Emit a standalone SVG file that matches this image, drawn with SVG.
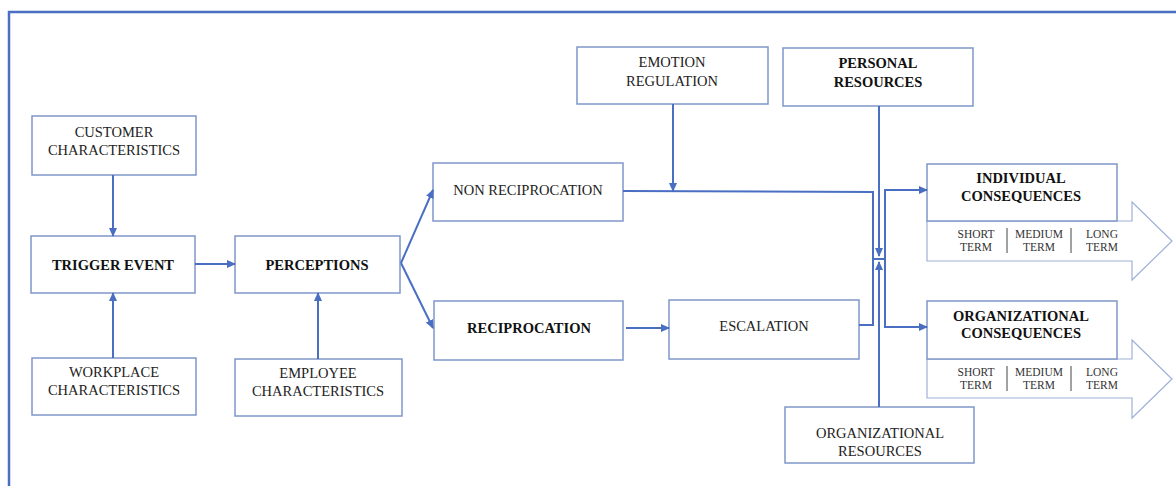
<svg xmlns="http://www.w3.org/2000/svg" width="1176" height="486" viewBox="0 0 1176 486">
<style>
.box{fill:#ffffff;stroke:#7f97c8;stroke-width:1.5}
.big{fill:#ffffff;stroke:#9fb0d8;stroke-width:1.2}
.t{font-family:"Liberation Serif","Times New Roman",serif;font-size:14.5px;fill:#222;text-anchor:middle}
.b{font-weight:bold;fill:#111}
.s{font-family:"Liberation Serif","Times New Roman",serif;font-size:11.5px;fill:#333;text-anchor:middle}
.c{fill:none;stroke:#4a6fc2;stroke-width:2}
.sep{stroke:#444;stroke-width:1}
</style>
<defs>
<marker id="ah" markerUnits="userSpaceOnUse" markerWidth="9" markerHeight="8" refX="8" refY="4" orient="auto">
<path d="M0,0 L9,4 L0,8 z" fill="#4a6fc2"/>
</marker>
</defs>
<rect width="1176" height="486" fill="#ffffff"/>
<path d="M9,486 L9,12 L1176,12" fill="none" stroke="#4a6fc2" stroke-width="2.5"/>

<g id="customer">
<rect class="box" x="32" y="116" width="164" height="59"/>
<text class="t" x="114" y="137">CUSTOMER</text>
<text class="t" x="114" y="155">CHARACTERISTICS</text>
</g>
<g id="trigger">
<rect class="box" x="31" y="236" width="164" height="57"/>
<text class="t b" x="113" y="269.5">TRIGGER EVENT</text>
</g>
<g id="workplace">
<rect class="box" x="32" y="358" width="164" height="57"/>
<text class="t" x="114" y="377">WORKPLACE</text>
<text class="t" x="114" y="395">CHARACTERISTICS</text>
</g>
<g id="perceptions">
<rect class="box" x="235" y="236" width="165" height="57"/>
<text class="t b" x="317" y="269.5">PERCEPTIONS</text>
</g>
<g id="employee">
<rect class="box" x="235" y="359" width="167" height="57"/>
<text class="t" x="318" y="378">EMPLOYEE</text>
<text class="t" x="318" y="396">CHARACTERISTICS</text>
</g>
<g id="emotion">
<rect class="box" x="577" y="47" width="191" height="57"/>
<text class="t" x="672" y="67">EMOTION</text>
<text class="t" x="672" y="85.5">REGULATION</text>
</g>
<g id="nonreciprocation">
<rect class="box" x="433" y="163" width="190" height="58"/>
<text class="t" x="528" y="195">NON RECIPROCATION</text>
</g>
<g id="reciprocation">
<rect class="box" x="434" y="301" width="189" height="59"/>
<text class="t b" x="529" y="333">RECIPROCATION</text>
</g>
<g id="escalation">
<rect class="box" x="669" y="300" width="190" height="59"/>
<text class="t" x="764" y="331">ESCALATION</text>
</g>
<g id="personal">
<rect class="box" x="783" y="48" width="190" height="58"/>
<text class="t b" x="878" y="68">PERSONAL</text>
<text class="t b" x="878" y="87">RESOURCES</text>
</g>
<g id="orgresources">
<rect class="box" x="785" y="407" width="189" height="56"/>
<text class="t" x="880" y="438">ORGANIZATIONAL</text>
<text class="t" x="880" y="456">RESOURCES</text>
</g>
<g id="individual">
<path class="big" d="M927,221 L1132,221 L1132,202 L1172,241 L1132,280 L1132,261 L927,261 Z"/>
<rect class="box" x="927" y="164" width="190" height="57"/>
<text class="t b" x="1021" y="183">INDIVIDUAL</text>
<text class="t b" x="1021" y="201">CONSEQUENCES</text>
<text class="s" x="976" y="238">SHORT</text>
<text class="s" x="976" y="251">TERM</text>
<text class="s" x="1039" y="238">MEDIUM</text>
<text class="s" x="1039" y="251">TERM</text>
<text class="s" x="1102" y="238">LONG</text>
<text class="s" x="1102" y="251">TERM</text>
<line class="sep" x1="1007" y1="228" x2="1007" y2="253"/>
<line class="sep" x1="1071" y1="228" x2="1071" y2="253"/>
</g>
<g id="organizational">
<path class="big" d="M927,359 L1132,359 L1132,340 L1172,379 L1132,418 L1132,398 L927,398 Z"/>
<rect class="box" x="927" y="301" width="190" height="58"/>
<text class="t b" x="1021" y="321">ORGANIZATIONAL</text>
<text class="t b" x="1021" y="338">CONSEQUENCES</text>
<text class="s" x="976" y="376">SHORT</text>
<text class="s" x="976" y="389">TERM</text>
<text class="s" x="1039" y="376">MEDIUM</text>
<text class="s" x="1039" y="389">TERM</text>
<text class="s" x="1102" y="376">LONG</text>
<text class="s" x="1102" y="389">TERM</text>
<line class="sep" x1="1007" y1="366" x2="1007" y2="391"/>
<line class="sep" x1="1071" y1="366" x2="1071" y2="391"/>
</g>

<g id="connectors">
<path class="c" d="M113,175 L113,236" marker-end="url(#ah)"/>
<path class="c" d="M113,358 L113,293" marker-end="url(#ah)"/>
<path class="c" d="M195,264 L235,264" marker-end="url(#ah)"/>
<path class="c" d="M318,359 L318,293" marker-end="url(#ah)"/>
<path class="c" d="M401,263 L433,190" marker-end="url(#ah)"/>
<path class="c" d="M401,263 L433,328" marker-end="url(#ah)"/>
<path class="c" d="M673,104 L673,191" marker-end="url(#ah)"/>
<path class="c" d="M623,191 L873,192 L873,259"/>
<path class="c" d="M626,328 L669,328" marker-end="url(#ah)"/>
<path class="c" d="M859,325 L873,325 L873,259"/>
<path class="c" d="M879,106 L879,256" marker-end="url(#ah)"/>
<path class="c" d="M873,259 L885,259"/>
<path class="c" d="M879,407 L879,262" marker-end="url(#ah)"/>
<path class="c" d="M885,259 L885,190 L927,190" marker-end="url(#ah)"/>
<path class="c" d="M885,259 L885,327 L927,327" marker-end="url(#ah)"/>
</g>
</svg>
